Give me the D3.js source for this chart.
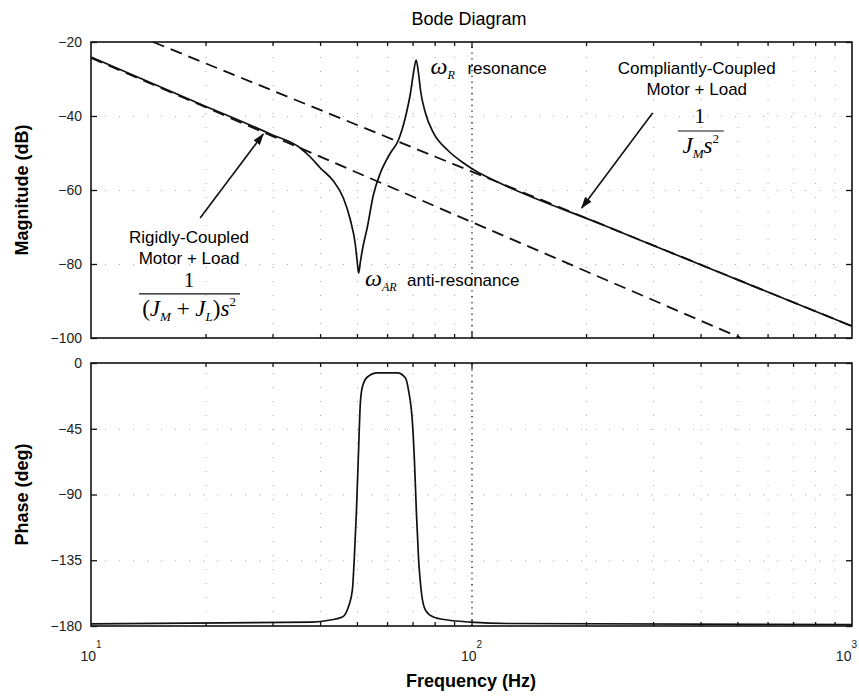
<!DOCTYPE html>
<html>
<head>
<meta charset="utf-8">
<script src="https://cdn.jsdelivr.net/npm/d3@7"></script>
<style>
body { margin: 0; background: #fff; }
</style>
</head>
<body>
<svg id="chart" width="859" height="700"></svg>
<script>
// Values

// tick labels
var magTicks = [-20, -40, -60, -80, -100];
var phaseTicks = [0, -45, -90, -135, -180];
var freqDecades = [10, 100, 1000];
var decadeExps = ["1", "2", "3"];

// motor + load, compliant coupling: magnitude (dB)
var magFreq = [10, 19.36, 29.59, 35.48, 37.70, 40.06, 43.35, 46.05, 48.05, 49.53, 50.12, 50.51,
               51.04, 51.66, 53.25, 55.22, 57.61, 61.22, 64.27, 67.06, 69.13, 70.39, 71.55,
               72.55, 73.43, 75.68, 79.43, 86.47, 95.25, 103.7, 117.1, 218.6, 452.2, 1000];
var magDb = [-24.05, -36.76, -44.86, -48.65, -51.08, -54.05, -57.57, -62.16, -68.11, -74.86, -79.73, -82.43,
             -79.46, -76.22, -70.0, -61.35, -55.41, -50.0, -46.49, -40.27, -33.78, -28.38, -24.86,
             -28.38, -32.97, -39.19, -44.59, -49.19, -52.70, -55.14, -57.84, -69.2, -82.43, -96.8];

// phase (deg)
var phFreq = [10, 38.16, 42.56, 45.77, 47.47, 48.63, 49.22, 49.82, 50.42, 51.04, 51.66, 53.25, 56.57,
              63.88, 67.06, 68.29, 69.96, 70.79, 71.66, 72.55, 73.88, 75.68, 79.43, 86.47, 99.4, 124.4, 1000];
var phDeg = [-178.6, -177.3, -175.9, -173.9, -167.0, -155.4, -132.8, -102.7, -64.3, -27.4, -16.4, -9.6, -6.8,
             -6.8, -10.3, -18.5, -41.1, -66.4, -102.7, -132.8, -157.4, -169.1, -173.9, -175.9, -177.3, -178.3, -179];

// dashed asymptotes
var rigidFreq = [10, 510.6];     // 1/((JM+JL)s^2)
var rigidDb = [-24.3, -100];
var compFreq = [14.56, 1000];    // 1/(JM s^2)
var compDb = [-20, -96.8];

var SANS = "'Liberation Sans', Arial, sans-serif";
var SERIF = "'Liberation Serif', 'Times New Roman', serif";

var svg = d3.select("#chart").attr("font-family", SANS);

var x = d3.scaleLog().domain([10, 1000]).range([91, 852]);
var yMag = d3.scaleLinear().domain([-100, -20]).range([338, 42]);
var yPh = d3.scaleLinear().domain([-180, 0]).range([626, 363]);

var minorFreq = [];
freqDecades.slice(0, -1).forEach(function(d) {
    for (var k = 2; k < 10; k++) minorFreq.push(d * k);
});
var innerDecades = freqDecades.slice(1, -1);

// arrow head
svg.append("defs").append("marker")
    .attr("id", "head")
    .attr("viewBox", "0 0 12 8")
    .attr("refX", 11).attr("refY", 4)
    .attr("markerWidth", 12).attr("markerHeight", 8)
    .attr("markerUnits", "userSpaceOnUse")
    .attr("orient", "auto")
  .append("path")
    .attr("d", "M0,0L12,4L0,8Z")
    .attr("fill", "#111");

function panel(y, ticks) {
    var top = y.range()[1], bot = y.range()[0];
    var left = x.range()[0], right = x.range()[1];
    var g = svg.append("g");

    // grid (very faint in the scan)
    g.append("g").attr("transform", "translate(0," + bot + ")")
        .call(d3.axisBottom(x).tickValues(minorFreq).tickSize(-(bot - top)).tickFormat(""))
        .call(function(s) { s.select(".domain").remove(); })
        .selectAll("line").attr("stroke", "#aaa").attr("stroke-dasharray", "1,13");
    g.append("g").attr("transform", "translate(0," + bot + ")")
        .call(d3.axisBottom(x).tickValues(innerDecades).tickSize(-(bot - top)).tickFormat(""))
        .call(function(s) { s.select(".domain").remove(); })
        .selectAll("line").attr("stroke", "#111").attr("stroke-width", 1.3).attr("stroke-dasharray", "1.3,4.5");
    g.append("g").attr("transform", "translate(" + left + ",0)")
        .call(d3.axisLeft(y).tickValues(ticks.slice(1, -1)).tickSize(-(right - left)).tickFormat(""))
        .call(function(s) { s.select(".domain").remove(); })
        .selectAll("line").attr("stroke", "#aaa").attr("stroke-dasharray", "1,13");

    // ticks, inward on all four sides
    g.append("g").attr("transform", "translate(" + left + ",0)")
        .call(d3.axisLeft(y).tickValues(ticks).tickSize(-6).tickPadding(9).tickFormat(d3.format("d")))
        .call(function(s) {
            s.select(".domain").remove();
            s.selectAll("text").attr("font-size", 14).attr("fill", "#222").attr("font-family", SANS);
        });
    g.append("g").attr("transform", "translate(" + right + ",0)")
        .call(d3.axisRight(y).tickValues(ticks).tickSize(-6).tickFormat(""))
        .call(function(s) { s.select(".domain").remove(); });
    [top, bot].forEach(function(yy, i) {
        var mk = i === 0 ? d3.axisTop : d3.axisBottom;
        g.append("g").attr("transform", "translate(0," + yy + ")")
            .call(mk(x).tickValues(innerDecades).tickSize(-6).tickFormat(""))
            .call(function(s) { s.select(".domain").remove(); });
        g.append("g").attr("transform", "translate(0," + yy + ")")
            .call(mk(x).tickValues(minorFreq).tickSize(-4).tickFormat(""))
            .call(function(s) { s.select(".domain").remove(); });
    });
    g.selectAll(".tick line").filter(function() {
        return !d3.select(this).attr("stroke-dasharray");
    }).attr("stroke", "#111").attr("stroke-width", 1.3);

    g.append("rect")
        .attr("x", left).attr("y", top)
        .attr("width", right - left).attr("height", bot - top)
        .attr("fill", "none").attr("stroke", "#111").attr("stroke-width", 1.6);
    return g;
}

var gMag = panel(yMag, magTicks);
var gPh = panel(yPh, phaseTicks);

function series(fs, vs, y, curve) {
    return d3.line()
        .x(function(i) { return x(fs[i]); })
        .y(function(i) { return y(vs[i]); })
        .curve(curve)(d3.range(fs.length));
}

// asymptotes
[[rigidFreq, rigidDb], [compFreq, compDb]].forEach(function(s) {
    gMag.append("path")
        .attr("d", series(s[0], s[1], yMag, d3.curveLinear))
        .attr("fill", "none").attr("stroke", "#111").attr("stroke-width", 1.8)
        .attr("stroke-dasharray", "12,7");
});

gMag.append("path")
    .attr("d", series(magFreq, magDb, yMag, d3.curveMonotoneX))
    .attr("fill", "none").attr("stroke", "#111").attr("stroke-width", 1.7);

gPh.append("path")
    .attr("d", series(phFreq, phDeg, yPh, d3.curveMonotoneX))
    .attr("fill", "none").attr("stroke", "#111").attr("stroke-width", 1.7);

// x tick labels, 10^n
freqDecades.forEach(function(f, i) {
    var last = i === freqDecades.length - 1;
    var t = svg.append("text")
        .attr("x", last ? x(f) + 5 : x(f)).attr("y", 661)
        .attr("text-anchor", last ? "end" : "middle")
        .attr("font-size", 14).attr("fill", "#222")
        .text("10");
    t.append("tspan").attr("dy", -13).attr("font-size", 10).text(decadeExps[i]);
});

// titles
svg.append("text").attr("x", 469).attr("y", 25).attr("text-anchor", "middle")
    .attr("font-size", 18).text("Bode Diagram");
svg.append("text").attr("x", 471).attr("y", 687).attr("text-anchor", "middle")
    .attr("font-size", 18).attr("font-weight", "bold").text("Frequency (Hz)");
svg.append("text").attr("transform", "translate(28," + yMag(-60) + ") rotate(-90)")
    .attr("text-anchor", "middle").attr("font-size", 18).attr("font-weight", "bold")
    .text("Magnitude (dB)");
svg.append("text").attr("transform", "translate(28," + yPh(-90) + ") rotate(-90)")
    .attr("text-anchor", "middle").attr("font-size", 18).attr("font-weight", "bold")
    .text("Phase (deg)");

// annotations
function omega(fx, db, sub, word, gap) {
    var t = gMag.append("text")
        .attr("x", x(fx)).attr("y", yMag(db))
        .attr("font-size", 24).attr("font-style", "italic")
        .attr("font-family", SERIF)
        .text("\u03c9");
    t.append("tspan").attr("dy", 5).attr("font-size", 12).text(sub);
    gMag.append("text")
        .attr("x", x(fx) + gap).attr("y", yMag(db))
        .attr("font-size", 17).text(word);
}
omega(78.0, -28.65, "R", "resonance", 37);
omega(52.5, -85.9, "AR", "anti-resonance", 42);

function serifText(g, px, py, size) {
    return g.append("text").attr("x", px).attr("y", py)
        .attr("text-anchor", "middle").attr("font-size", size)
        .attr("font-family", SERIF);
}

// rigidly coupled label
var rx = x(18.1), ry = yMag(-74.3);
gMag.append("text").attr("x", rx).attr("y", ry).attr("text-anchor", "middle")
    .attr("font-size", 17).text("Rigidly-Coupled");
gMag.append("text").attr("x", rx).attr("y", ry + 21).attr("text-anchor", "middle")
    .attr("font-size", 17).text("Motor + Load");
serifText(gMag, rx, ry + 44, 21).text("1");
gMag.append("line").attr("x1", rx - 50).attr("x2", rx + 51)
    .attr("y1", ry + 51).attr("y2", ry + 51).attr("stroke", "#111").attr("stroke-width", 1.2);
var den = serifText(gMag, rx, ry + 73, 23);
den.append("tspan").text("(");
den.append("tspan").attr("font-style", "italic").text("J");
den.append("tspan").attr("font-style", "italic").attr("font-size", 13).attr("dy", 5).text("M");
den.append("tspan").attr("dy", -5).text(" + ");
den.append("tspan").attr("font-style", "italic").text("J");
den.append("tspan").attr("font-style", "italic").attr("font-size", 13).attr("dy", 5).text("L");
den.append("tspan").attr("dy", -5).text(")");
den.append("tspan").attr("font-style", "italic").text("s");
den.append("tspan").attr("font-size", 13).attr("dy", -10).text("2");

// compliantly coupled label
var cx = x(390.8), cy = yMag(-28.65);
gMag.append("text").attr("x", cx).attr("y", cy).attr("text-anchor", "middle")
    .attr("font-size", 17).text("Compliantly-Coupled");
gMag.append("text").attr("x", cx).attr("y", cy + 21).attr("text-anchor", "middle")
    .attr("font-size", 17).text("Motor + Load");
serifText(gMag, cx + 3, cy + 49, 21).text("1");
gMag.append("line").attr("x1", cx - 19).attr("x2", cx + 27)
    .attr("y1", cy + 57).attr("y2", cy + 57).attr("stroke", "#111").attr("stroke-width", 1.2);
var den2 = serifText(gMag, cx + 4, cy + 79, 23);
den2.append("tspan").attr("font-style", "italic").text("J");
den2.append("tspan").attr("font-style", "italic").attr("font-size", 13).attr("dy", 5).text("M");
den2.append("tspan").attr("font-style", "italic").attr("dy", -5).text("s");
den2.append("tspan").attr("font-size", 13).attr("dy", -10).text("2");

// arrows
[[19.36, -67.57, 28.36, -44.86], [299.2, -39.19, 194.8, -64.86]].forEach(function(a) {
    gMag.append("line")
        .attr("x1", x(a[0])).attr("y1", yMag(a[1]))
        .attr("x2", x(a[2])).attr("y2", yMag(a[3]))
        .attr("stroke", "#111").attr("stroke-width", 1.6)
        .attr("marker-end", "url(#head)");
});
</script>
</body>
</html>
